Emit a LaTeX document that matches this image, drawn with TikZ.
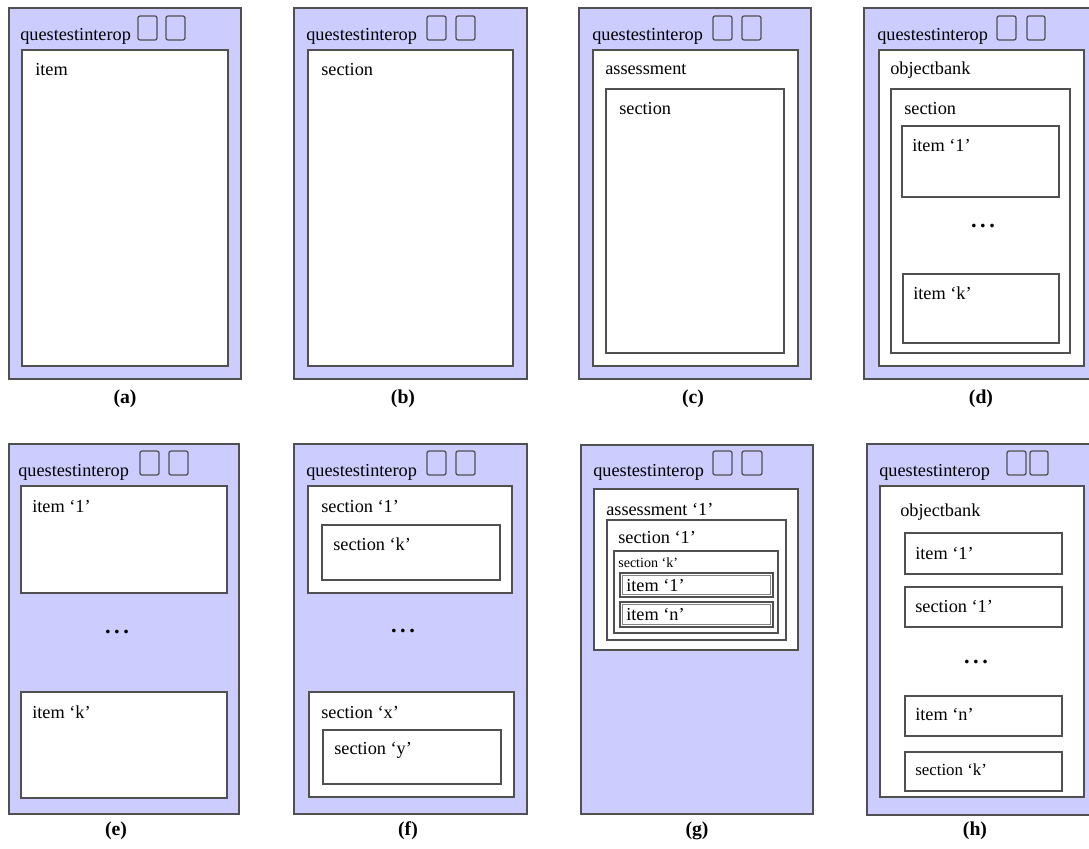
\documentclass[tikz,border=0pt]{standalone}
\usepackage{fontspec}
\setmainfont{Liberation Serif}
\definecolor{qtiblue}{RGB}{204,204,255}
\definecolor{qtiedge}{RGB}{80,80,80}
\tikzset{
	panel/.style={draw=qtiedge, fill=qtiblue, line width=1.1pt},
	wbox/.style={draw=qtiedge, fill=white, line width=1pt},
	inbox/.style={draw=qtiedge!70, line width=0.6pt},
	tbox/.style={draw=qtiedge, fill=qtiblue, line width=0.9pt, rounded corners=1.5pt},
	qtitle/.style={anchor=west, inner sep=0pt, font=\fontsize{13}{15}\selectfont},
	txt/.style={anchor=west, inner sep=0pt, font=\fontsize{13}{15}\selectfont},
	smalltxt/.style={anchor=west, inner sep=0pt, font=\fontsize{10}{12}\selectfont},
	more/.style={inner sep=0pt, font=\bfseries\fontsize{16}{18}\selectfont},
	sublabel/.style={inner sep=0pt, font=\bfseries\fontsize{14}{16}\selectfont}
}
\newcommand{\moredots}{.\hspace{2.5pt}.\hspace{2.5pt}.}
\begin{document}
\begin{tikzpicture}[x=0.025cm, y=-0.025cm]
	\useasboundingbox (0,0) rectangle (1089,848);
	\clip (0,0) rectangle (1089,848);
	
	\draw[panel] (9,8) rectangle (241,379);
	\draw[tbox] (138,16) rectangle (157,40);
	\draw[tbox] (166,16) rectangle (185,40);
	\draw[wbox] (22,50) rectangle (228,366);
	\node[qtitle] at (20,36) (aqti) {questestinterop};
	\node[txt] at (35,70) (aitem) {item};
	\node[sublabel] at (125,399) (alab) {(a)};
	
	\draw[panel] (294,8) rectangle (527,379);
	\draw[tbox] (427,16) rectangle (446,40);
	\draw[tbox] (456,16) rectangle (475,40);
	\draw[wbox] (308,50) rectangle (513,366);
	\node[qtitle] at (306,36) (bqti) {questestinterop};
	\node[txt] at (321,70) (bsection) {section};
	\node[sublabel] at (403,399) (blab) {(b)};
	
	\draw[panel] (579,8) rectangle (811,379);
	\draw[tbox] (713,16) rectangle (732,40);
	\draw[tbox] (742,16) rectangle (761,40);
	\draw[wbox] (593,50) rectangle (798,366);
	\draw[wbox] (606,89) rectangle (784,353);
	\node[qtitle] at (592,36) (cqti) {questestinterop};
	\node[txt] at (605,69) (cassess) {assessment};
	\node[txt] at (619,109) (csection) {section};
	\node[sublabel] at (693,399) (clab) {(c)};
	
	\draw[panel] (864,8) rectangle (1096,379);
	\draw[tbox] (997,16) rectangle (1016,40);
	\draw[tbox] (1027,16) rectangle (1045,40);
	\draw[wbox] (879,50) rectangle (1084,366);
	\draw[wbox] (891,89) rectangle (1070,353);
	\draw[wbox] (902,126) rectangle (1059,197);
	\draw[wbox] (903,274) rectangle (1059,343);
	\node[qtitle] at (877,36) (dqti) {questestinterop};
	\node[txt] at (890,70) (dbank) {objectbank};
	\node[txt] at (904,109) (dsection) {section};
	\node[txt] at (912,145) (ditemone) {item `1'};
	\node[more] at (983,226) (dmore) {\moredots};
	\node[txt] at (913,293) (ditemk) {item `k'};
	\node[sublabel] at (981,399) (dlab) {(d)};
	
	\draw[panel] (9,444) rectangle (239,814);
	\draw[tbox] (140,451) rectangle (159,475);
	\draw[tbox] (169,451) rectangle (188,475);
	\draw[wbox] (21,486) rectangle (227,593);
	\draw[wbox] (21,692) rectangle (227,798);
	\node[qtitle] at (18,472) (eqti) {questestinterop};
	\node[txt] at (32,506) (eitemone) {item `1'};
	\node[more] at (117,632) (emore) {\moredots};
	\node[txt] at (32,712) (eitemk) {item `k'};
	\node[sublabel] at (116,831) (elab) {(e)};
	
	\draw[panel] (294,444) rectangle (527,814);
	\draw[tbox] (427,451) rectangle (446,475);
	\draw[tbox] (456,451) rectangle (475,475);
	\draw[wbox] (308,486) rectangle (512,593);
	\draw[wbox] (322,525) rectangle (500,580);
	\draw[wbox] (309,692) rectangle (514,797);
	\draw[wbox] (323,730) rectangle (501,784);
	\node[qtitle] at (306,472) (fqti) {questestinterop};
	\node[txt] at (321,506) (fsecone) {section `1'};
	\node[txt] at (333,544) (fseck) {section `k'};
	\node[more] at (403,631) (fmore) {\moredots};
	\node[txt] at (321,712) (fsecx) {section `x'};
	\node[txt] at (334,750) (fsecy) {section `y'};
	\node[sublabel] at (408,831) (flab) {(f)};
	
	\draw[panel] (581,445) rectangle (813,814);
	\draw[tbox] (713,451) rectangle (732,475);
	\draw[tbox] (742,451) rectangle (762,475);
	\draw[wbox] (594,489) rectangle (798,650);
	\draw[wbox] (607,520) rectangle (786,640);
	\draw[wbox] (614,551) rectangle (778,633);
	\draw[wbox] (620,573) rectangle (773,597);
	\draw[inbox] (622.5,575.5) rectangle (770.5,594.5);
	\draw[wbox] (620,602) rectangle (773,627);
	\draw[inbox] (622.5,604.5) rectangle (770.5,624.5);
	\node[qtitle] at (593,472) (gqti) {questestinterop};
	\node[txt] at (606,509) (gassess) {assessment `1'};
	\node[txt] at (618,537) (gsecone) {section `1'};
	\node[smalltxt] at (618,563) (gseck) {section `k'};
	\node[txt] at (626,585) (gitemone) {item `1'};
	\node[txt] at (626,614) (gitemn) {item `n'};
	\node[sublabel] at (697,831) (glab) {(g)};
	
	\draw[panel] (867,444) rectangle (1099,815);
	\draw[tbox] (1007,451) rectangle (1026,475);
	\draw[tbox] (1030,451) rectangle (1048,475);
	\draw[wbox] (880,486) rectangle (1084,797);
	\draw[wbox] (905,533) rectangle (1062,574);
	\draw[wbox] (905,587) rectangle (1062,627);
	\draw[wbox] (905,696) rectangle (1062,736);
	\draw[wbox] (905,752) rectangle (1062,791);
	\node[qtitle] at (879,472) (hqti) {questestinterop};
	\node[txt] at (900,512) (hbank) {objectbank};
	\node[txt] at (915,553) (hitemone) {item `1'};
	\node[txt] at (915,606) (hsecone) {section `1'};
	\node[more] at (976,662) (hmore) {\moredots};
	\node[txt] at (915,714) (hitemn) {item `n'};
	\node[txt, font=\fontsize{12}{14}\selectfont] at (915,770) (hseck) {section `k'};
	\node[sublabel] at (975,831) (hlab) {(h)};
	
\end{tikzpicture}
\end{document}
